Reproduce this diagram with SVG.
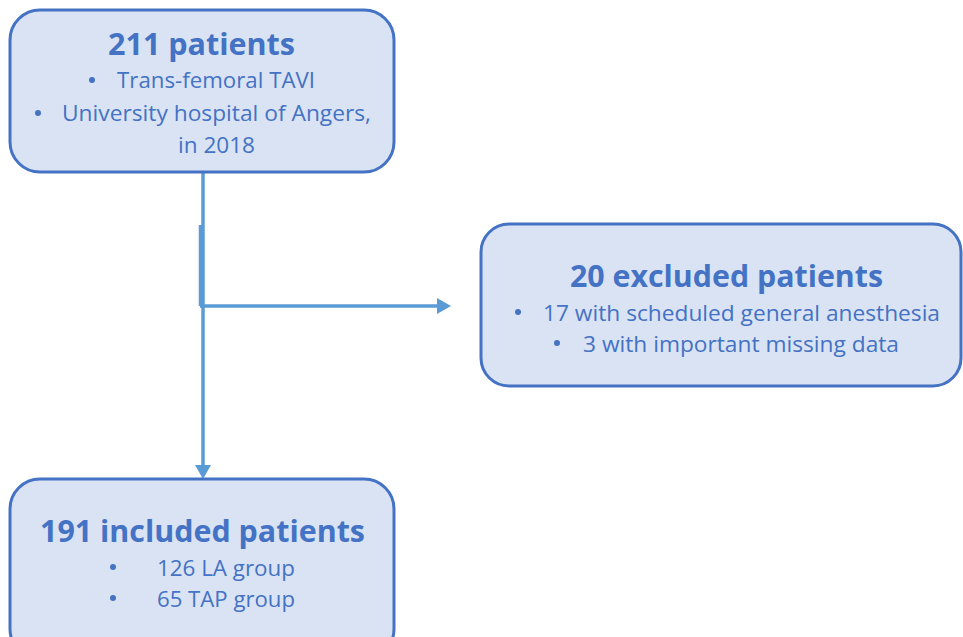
<svg xmlns="http://www.w3.org/2000/svg" width="963" height="637" viewBox="0 0 963 637">
<style>
.box{fill:#DAE3F3;stroke:#4472C4;stroke-width:3}
.t{font-family:"Open Sans","Liberation Sans",Arial,sans-serif;fill:#4472C4}
.h{font-size:31px;font-weight:bold}
.b{font-size:21px}
.dot{fill:#4472C4}
.c{stroke:#5B9BD5;stroke-width:3.5;fill:none}
</style>
<defs>
<marker id="ah" markerUnits="userSpaceOnUse" markerWidth="14" markerHeight="16" refX="0" refY="8" orient="auto">
<path d="M0,0 L14,8 L0,16 Z" fill="#5B9BD5"/>
</marker>
</defs>
<rect width="963" height="637" fill="#fff"/>
<g id="connectors">
<line class="c" x1="203" y1="172" x2="203" y2="465" marker-end="url(#ah)"/>
<line class="c" x1="200.5" y1="225" x2="200.5" y2="306"/>
<line class="c" x1="200" y1="306" x2="437" y2="306" marker-end="url(#ah)"/>
</g>
<g id="node-211">
<rect class="box" x="10" y="10" width="384" height="162" rx="30"/>
<text class="t h" x="108" y="55" textLength="187" lengthAdjust="spacingAndGlyphs">211 patients</text>
<circle class="dot" cx="92" cy="80" r="3"/>
<text class="t b" x="117" y="88" textLength="198" lengthAdjust="spacingAndGlyphs">Trans-femoral TAVI</text>
<circle class="dot" cx="38" cy="113" r="3"/>
<text class="t b" x="62" y="121" textLength="309" lengthAdjust="spacingAndGlyphs">University hospital of Angers,</text>
<text class="t b" x="178" y="153" textLength="77" lengthAdjust="spacingAndGlyphs">in 2018</text>
</g>
<g id="node-excluded">
<rect class="box" x="481" y="224" width="480" height="162" rx="28"/>
<text class="t h" x="570" y="287" textLength="313" lengthAdjust="spacingAndGlyphs">20 excluded patients</text>
<circle class="dot" cx="518" cy="312" r="3"/>
<text class="t b" x="543" y="321" textLength="397" lengthAdjust="spacingAndGlyphs">17 with scheduled general anesthesia</text>
<circle class="dot" cx="557" cy="343" r="3"/>
<text class="t b" x="583" y="352" textLength="316" lengthAdjust="spacingAndGlyphs">3 with important missing data</text>
</g>
<g id="node-191">
<rect class="box" x="10" y="479" width="384" height="180" rx="30"/>
<text class="t h" x="40" y="542" textLength="325" lengthAdjust="spacingAndGlyphs">191 included patients</text>
<circle class="dot" cx="113" cy="567" r="3"/>
<text class="t b" x="157" y="576" textLength="138" lengthAdjust="spacingAndGlyphs">126 LA group</text>
<circle class="dot" cx="113" cy="598" r="3"/>
<text class="t b" x="157" y="607" textLength="138" lengthAdjust="spacingAndGlyphs">65 TAP group</text>
</g>
</svg>
